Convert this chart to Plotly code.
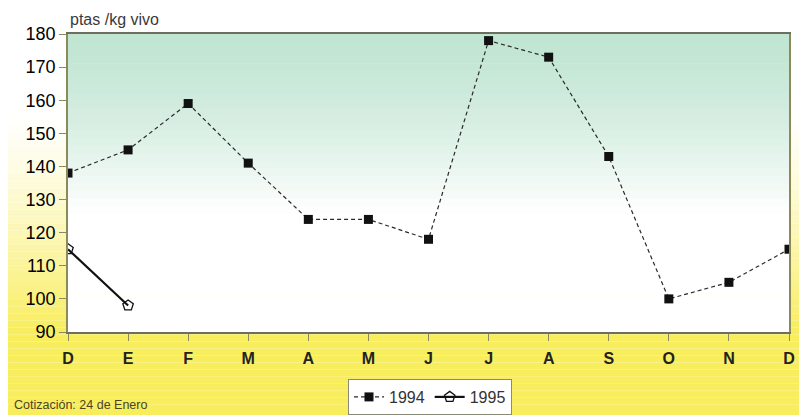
import numpy as np
import plotly.graph_objects as go

months = ["D", "E", "F", "M", "A", "M", "J", "J", "A", "S", "O", "N", "D"]
x_idx = list(range(len(months)))
v1994 = [138, 145, 159, 141, 124, 124, 118, 178, 173, 143, 100, 105, 115]
v1995 = [115, 98]

# page body has an 8px margin, so the figure is laid out in shifted coordinates
OFF = 8
W, H = 807 - OFF, 415 - OFF
L, T = 68 - OFF, 34 - OFF
PW, PH = 721, 298
R = W - L - PW
B = H - T - PH

fig = go.Figure()

fig.add_trace(go.Scatter(
    x=x_idx, y=v1994, name="1994", mode="lines+markers",
    line=dict(color="#2a2a2a", width=1.2, dash="4px,3px"),
    marker=dict(symbol="square", size=9, color="#111111"),
))
fig.add_trace(go.Scatter(
    x=x_idx[:len(v1995)], y=v1995, name="1995", mode="lines+markers",
    line=dict(color="#111111", width=2.2),
    marker=dict(symbol="pentagon-open", size=11, color="#111111", line=dict(width=1.3)),
))

def mix(c1, c2, t):
    return "rgb(%d,%d,%d)" % tuple(int(round(a + (b - a) * t)) for a, b in zip(c1, c2))

shapes = []
n = 60
white = (255, 255, 255)
yellow = (248, 237, 92)
x0p, x1p = -L / PW, 1 + (R + 20) / PW
for i in range(n):
    ytop = i * (H + 10) / n
    ybot = (i + 1) * (H + 10) / n
    ymid = (ytop + ybot) / 2 + OFF
    t = np.clip((ymid - 110) / (335 - 110), 0, 1) ** 1.3
    shapes.append(dict(type="rect", xref="paper", yref="paper", layer="below",
                       x0=x0p, x1=x1p,
                       y0=1 - (ybot - T) / PH, y1=1 - (ytop - T) / PH,
                       fillcolor=mix(white, yellow, t), line=dict(width=0)))
mint = (192, 229, 210)
m = 40
for i in range(m):
    y0 = i / m
    y1 = (i + 1) / m
    ymid = 1 - (y0 + y1) / 2
    t = np.clip(ymid / 0.6, 0, 1) ** 1.4
    shapes.append(dict(type="rect", xref="paper", yref="paper", layer="below",
                       x0=0, x1=1, y0=y0, y1=y1 + 0.002,
                       fillcolor=mix(mint, white, t), line=dict(width=0)))

fig.update_layout(
    width=W, height=H,
    margin=dict(l=L, r=R, t=T, b=B, autoexpand=False),
    paper_bgcolor="white",
    plot_bgcolor="rgba(0,0,0,0)",
    shapes=shapes,
    showlegend=True,
    legend=dict(orientation="h", x=(430 - OFF - L) / PW, xanchor="center",
                yref="container", y=1 - (397 - OFF) / H, yanchor="middle",
                bgcolor="white", bordercolor="#8a8a7a", borderwidth=1,
                font=dict(family="Liberation Sans, Arial", size=16, color="#333333"),
                itemwidth=30),
    font=dict(family="Liberation Sans, Arial", color="#222222"),
    annotations=[
        dict(text="ptas /kg vivo", xref="paper", yref="paper", x=0, y=1, xanchor="left",
             yanchor="bottom", yshift=4, showarrow=False,
             font=dict(size=16, color="#3a3a3a")),
        dict(text="Cotización: 24 de Enero", xref="paper", yref="paper",
             x=(12 - OFF - L) / PW, y=-(405 - OFF - (T + PH)) / PH, xanchor="left",
             yanchor="middle", showarrow=False,
             font=dict(size=12.5, color="#4a4520")),
    ],
)

fig.update_xaxes(
    range=[0, 12], tickmode="array", tickvals=x_idx, ticktext=months,
    showgrid=False, zeroline=False,
    showline=True, linecolor="#6e6e5e", linewidth=1.5, mirror=True,
    ticks="outside", ticklen=7, tickcolor="#8a8a5a", ticklabelstandoff=4,
    tickfont=dict(size=16, color="#222222", family="Liberation Sans, Arial", weight="bold"),
)
fig.update_yaxes(
    range=[90, 180], dtick=10, showgrid=False, zeroline=False,
    showline=True, linecolor="#8a8a5a", linewidth=1.5, mirror=True,
    ticks="outside", ticklen=7, tickcolor="#8a8a5a",
    tickfont=dict(size=18, color="#000000", family="Liberation Sans, Arial"),
)

fig.write_html("out.html")
